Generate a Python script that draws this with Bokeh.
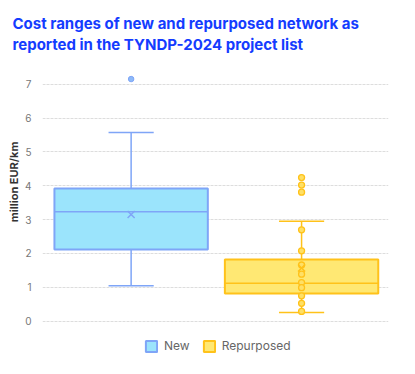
from bokeh.plotting import figure
from bokeh.models import Range1d, Title, Legend, LegendItem, ColumnDataSource
from bokeh.embed import file_html
from bokeh.resources import INLINE

# ---- data ----
categories = ["New", "Repurposed"]
whisker_low = [1.05, 0.26]
q1 = [2.12, 0.82]
median = [3.23, 1.12]
q3 = [3.92, 1.82]
whisker_high = [5.57, 2.95]
mean = [3.15, 1.57]
new_points = [7.15]
repurposed_points = [4.24, 4.02, 3.81, 2.70, 2.08, 1.66, 1.39, 1.14, 0.99, 0.75, 0.53, 0.29]
y_ticks = [0, 1, 2, 3, 4, 5, 6, 7]

fills = ["#9be4fc", "#ffe873"]
lines = ["#7fa5f7", "#ffc21a"]
FONT = "Inter"

BOX_W = 0.9
CAP_W = 0.265
xc = [i + 0.5 for i in range(len(categories))]

p = figure(width=399, height=366, x_range=Range1d(-0.02, len(categories) + 0.01),
           y_range=Range1d(-1.1, 7.55), output_backend="svg", toolbar_location=None,
           min_border_left=42, min_border_right=11, min_border_top=60, min_border_bottom=8)
p.outline_line_color = None

src = ColumnDataSource(dict(x=xc, x0=[v - BOX_W / 2 for v in xc], x1=[v + BOX_W / 2 for v in xc],
                            c0=[v - CAP_W / 2 for v in xc], c1=[v + CAP_W / 2 for v in xc],
                            lo=whisker_low, q1=q1, med=median, q3=q3,
                            hi=whisker_high, mean=mean, line=lines))

# whiskers
p.segment(x0="x", x1="x", y0="q3", y1="hi", line_color="line", line_width=1.5, source=src)
p.segment(x0="x", x1="x", y0="lo", y1="q1", line_color="line", line_width=1.5, source=src)
# caps
p.segment(x0="c0", x1="c1", y0="hi", y1="hi", line_color="line", line_width=1.5, source=src)
p.segment(x0="c0", x1="c1", y0="lo", y1="lo", line_color="line", line_width=1.5, source=src)
# boxes
boxes = []
for i, c in enumerate(categories):
    r = p.vbar(x=[xc[i]], bottom=[q1[i]], top=[q3[i]], width=BOX_W, fill_color=fills[i],
               line_color=lines[i], line_width=2)
    boxes.append(r)
# medians
p.segment(x0="x0", x1="x1", y0="med", y1="med", line_color="line", line_width=1.5, source=src)
# points
p.scatter(x=[xc[1]] * len(repurposed_points), y=repurposed_points, marker="circle",
          size=6, fill_color="#ffe066", line_color="#ffc21a", line_width=1.3)
p.scatter(x=[xc[0]] * len(new_points), y=new_points, marker="circle", size=5.5,
          fill_color="#8dbaf8", line_color="#7fa5f7", line_width=1)
# means
p.scatter(x="x", y="mean", marker="x", size=10, line_color="line", line_width=1.5, source=src)

# axes
p.xaxis.visible = False
p.xgrid.grid_line_color = None
p.ygrid.grid_line_color = "#dddddd"
p.ygrid.grid_line_dash = "3 1"
p.yaxis.ticker = y_ticks
p.yaxis.axis_line_color = None
p.yaxis.major_tick_line_color = None
p.yaxis.minor_tick_line_color = None
p.yaxis.major_label_text_font = FONT
p.yaxis.major_label_text_font_size = "10px"
p.yaxis.major_label_text_color = "#777777"
p.yaxis.major_label_standoff = 5

# y-axis title as a side title (anchored from the top of the plot area)
p.add_layout(Title(text="million EUR/km", align="right", offset=76, text_font=FONT,
                   text_font_size="11px", text_font_style="bold", text_color="#333333",
                   standoff=4), "left")

# title
title_text = "Cost ranges of new and repurposed network as\nreported in the TYNDP-2024 project list"
p.add_layout(Title(text=title_text, align="left", text_font=FONT, text_font_size="15px",
                   text_font_style="bold", text_color="#143cff", offset=-30, standoff=23,
                   text_line_height=1.1), "above")

legend = Legend(items=[LegendItem(label=c, renderers=[boxes[i]]) for i, c in enumerate(categories)],
                orientation="horizontal", location=(102, 5), border_line_color=None,
                background_fill_alpha=0, label_text_font=FONT, label_text_font_size="12px",
                label_text_color="#666666", glyph_width=14, glyph_height=14, spacing=12,
                label_standoff=6, padding=4, margin=0)
p.add_layout(legend)

open("out.html", "w").write(file_html(p, INLINE))
